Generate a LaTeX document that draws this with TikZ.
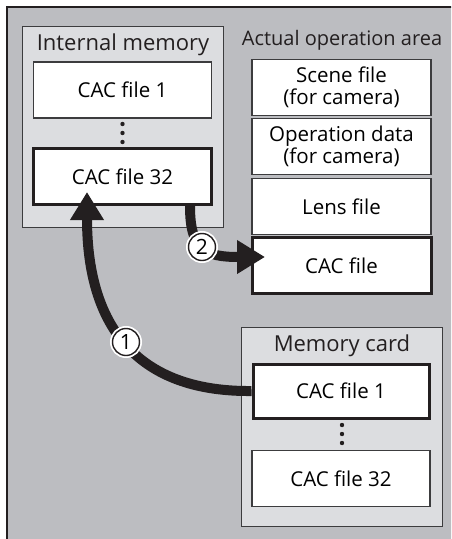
\documentclass[tikz,border=0pt]{standalone}
\usepackage{fontspec}
\setmainfont{Open Sans}
\usepackage{tikz}
\usetikzlibrary{arrows.meta, positioning, calc}
\definecolor{framegray}{RGB}{188, 189, 193}
\definecolor{groupgray}{RGB}{220, 221, 224}
\definecolor{linegray}{RGB}{60, 60, 62}
\definecolor{arrowblack}{RGB}{35, 31, 32}

\begin{document}
\begin{tikzpicture}[x=1pt, y=-1pt,
          filebox/.style={rectangle, draw=linegray, line width=1.1pt,
                          fill=white, minimum width=178pt,
                          minimum height=56pt, inner sep=0pt, align=center,
                          font=\fontsize{20.5}{22.5}\selectfont},
          selbox/.style={filebox, draw=arrowblack, line width=3pt},
          groupbox/.style={rectangle, draw=linegray, line width=1pt,
                           fill=groupgray, minimum width=201pt,
                           inner sep=0pt},
          title/.style={font=\fontsize{22}{24}\selectfont,
                        text=arrowblack, inner sep=0pt},
          bigarrow/.style={draw=arrowblack, line width=10pt,
                           -{Triangle[width=32pt, length=28pt]}},
          numcirc/.style={circle, draw=arrowblack, line width=1.4pt,
                          fill=white, minimum size=27pt, inner sep=0pt,
                          preaction={draw=white, line width=5pt},
                          font=\fontsize{21}{21}\selectfont},
      ]
      \useasboundingbox (0,0) rectangle (451,539);
      \clip (0,0) rectangle (451,539);
      \draw[fill=framegray, draw=arrowblack, line width=1.5pt]
          (7,7) rectangle (470,560);

      % internal memory
      \node[groupbox, minimum height=201pt] (imgrp) at (122.5,126.5) {};
      \node[title] (imtitle) at (123,45) {Internal memory};
      \node[filebox] (im1) at (122.5,90) {CAC file 1};
      \node[selbox] (im32) at (122.5,176.5) {CAC file 32};
      \foreach \y in {124,133,142}
          \fill[arrowblack] (122.5,\y) circle (2.2pt);

      % actual operation area
      \node[title, font=\fontsize{20}{22}\selectfont] (optitle)
          at (342,40) {Actual operation area};
      \node[filebox, minimum width=179pt] (scene) at (341.5,87.5)
          {Scene file\\(for camera)};
      \node[filebox, minimum width=179pt] (opdata) at (341.5,146.5)
          {Operation data\\(for camera)};
      \node[filebox, minimum width=179pt] (lens) at (341.5,206.5)
          {Lens file};
      \node[selbox, minimum width=179pt] (cac) at (341.5,265.5)
          {CAC file};

      % memory card
      \node[groupbox, minimum height=199pt] (mcgrp) at (341.5,426.5) {};
      \node[title] (mctitle) at (342,346) {Memory card};
      \node[selbox, minimum width=176pt, minimum height=54pt] (mc1)
          at (341,391) {CAC file 1};
      \node[filebox, minimum width=178pt] (mc32) at (341,478.5)
          {CAC file 32};
      \foreach \y in {425,434,443}
          \fill[arrowblack] (342,\y) circle (2.2pt);

      % transfers
      \coordinate (in1) at (87,192);
      \coordinate (out2) at ($(im32.south)+(67.5,0)$);
      \coordinate (in2) at (265,257);
      \draw[bigarrow] (mc1.west) .. controls (145,392) and (87,335)
          .. (in1);
      \draw[bigarrow] (out2) .. controls (190,250) and (205,257)
          .. (in2);
      \node[numcirc] (n1) at (126,342) {1};
      \node[numcirc] (n2) at (202,247) {2};
      \end{tikzpicture}
\end{document}
